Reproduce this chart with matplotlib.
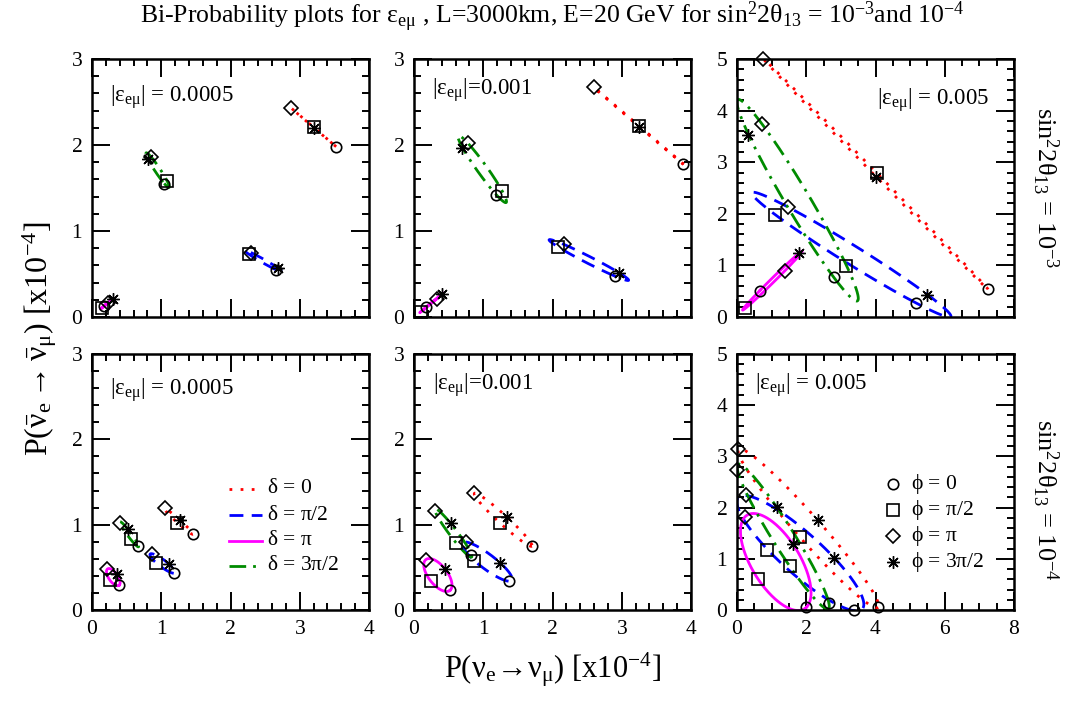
import numpy as np
import matplotlib
matplotlib.use('Agg')
import matplotlib.pyplot as plt
from matplotlib.ticker import MultipleLocator

plt.rcParams['font.family'] = ['Liberation Serif', 'DejaVu Serif']
plt.rcParams['mathtext.fontset'] = 'stix'
plt.rcParams['mathtext.default'] = 'regular'

# rows: delta = 0, pi/2, pi, 3pi/2
# columns: phi = 0, pi/2, pi, 3pi/2   (values in units of 1e-4)
p1_x = [[3.52, 3.20, 2.87, 3.21], [2.66, 2.26, 2.30, 2.68], [0.17, 0.14, 0.23, 0.30], [1.04, 1.09, 0.85, 0.81]]
p1_y = [[1.98, 2.21, 2.43, 2.20], [0.55, 0.73, 0.75, 0.57], [0.13, 0.10, 0.16, 0.21], [1.55, 1.58, 1.86, 1.84]]

p2_x = [[3.89, 3.25, 2.60, 3.25], [2.90, 2.08, 2.16, 2.96], [0.18, 0.10, 0.33, 0.41], [1.19, 1.27, 0.78, 0.70]]
p2_y = [[1.78, 2.22, 2.67, 2.21], [0.48, 0.81, 0.85, 0.51], [0.12, 0.06, 0.21, 0.27], [1.42, 1.47, 2.02, 1.97]]

p3_x = [[7.24, 4.03, 0.76, 4.02], [5.16, 1.10, 1.46, 5.50], [0.67, 0.23, 1.39, 1.80], [2.79, 3.16, 0.72, 0.33]]
p3_y = [[0.54, 2.80, 5.00, 2.72], [0.28, 1.98, 2.14, 0.43], [0.51, 0.17, 0.89, 1.25], [0.78, 0.99, 3.75, 3.53]]

p4_x = [[1.46, 1.23, 1.05, 1.27], [1.18, 0.93, 0.86, 1.11], [0.39, 0.26, 0.22, 0.36], [0.67, 0.56, 0.40, 0.52]]
p4_y = [[0.89, 1.02, 1.19, 1.05], [0.43, 0.55, 0.66, 0.54], [0.29, 0.35, 0.48, 0.42], [0.75, 0.83, 1.02, 0.95]]

p5_x = [[1.70, 1.24, 0.87, 1.34], [1.37, 0.86, 0.75, 1.24], [0.52, 0.24, 0.17, 0.45], [0.83, 0.61, 0.30, 0.53]]
p5_y = [[0.75, 1.02, 1.37, 1.09], [0.34, 0.58, 0.80, 0.55], [0.23, 0.34, 0.59, 0.48], [0.64, 0.79, 1.16, 1.02]]

p6_x = [[4.07, 1.81, 0.04, 2.33], [3.39, 0.88, 0.26, 2.79], [2.00, 0.62, 0.23, 1.63], [2.65, 1.52, 0.01, 1.15]]
p6_y = [[0.05, 1.43, 3.14, 1.76], [0.00, 1.17, 2.25, 1.02], [0.05, 0.60, 1.82, 1.28], [0.14, 0.86, 2.73, 2.01]]

delta_labels = [r'$\delta$ = 0', r'$\delta$ = $\pi$/2', r'$\delta$ = $\pi$', r'$\delta$ = 3$\pi$/2']
phi_labels = [r'$\phi$ = 0', r'$\phi$ = $\pi$/2', r'$\phi$ = $\pi$', r'$\phi$ = 3$\pi$/2']

line_colors = ['#ff0000', '#0000ff', '#ff00ff', '#008b00']
line_styles = [(0, (1, 3)), (0, (5, 3)), '-', (0, (6, 2.5, 1, 2.5))]
markers = ['o', 's', 'D', (8, 2, 0)]
marker_sizes = [7.5, 8, 7.5, 9]
marker_widths = [1.2, 1.2, 1.2, 1.0]


def bi_prob_curve(px, py):
    # closed bi-probability curve through the four phi points
    x = np.array(px)
    y = np.array(py)
    phi = np.linspace(0, 2 * np.pi, 400)
    cx, cy = x.mean(), y.mean()
    ux, uy = (x[0] - x[2]) / 2, (y[0] - y[2]) / 2
    vx, vy = (x[1] - x[3]) / 2, (y[1] - y[3]) / 2
    return (cx + ux * np.cos(phi) + vx * np.sin(phi),
            cy + uy * np.cos(phi) + vy * np.sin(phi))


def draw_panel(ax, px, py, xmax, ymax, xmajor, xminor, show_xlabels):
    for k in range(4):
        cxs, cys = bi_prob_curve(px[k], py[k])
        ax.plot(cxs, cys, color=line_colors[k], linestyle=line_styles[k], lw=2)
        for j in range(4):
            ax.plot(px[k][j], py[k][j], linestyle='none', marker=markers[j],
                    ms=marker_sizes[j], mfc='none', mec='black', mew=marker_widths[j],
                    clip_on=False, zorder=5)
    ax.set_xlim(0, xmax)
    ax.set_ylim(0, ymax)
    ax.xaxis.set_major_locator(MultipleLocator(xmajor))
    ax.xaxis.set_minor_locator(MultipleLocator(xminor))
    ax.yaxis.set_major_locator(MultipleLocator(1))
    ax.yaxis.set_minor_locator(MultipleLocator(0.2))
    ax.tick_params(which='both', direction='in', top=True, right=True, labelsize=15.5, width=1.4)
    ax.tick_params(which='major', length=13, pad=7)
    ax.tick_params(which='minor', length=5)
    if not show_xlabels:
        ax.tick_params(axis='x', labelbottom=False)
    for s in ax.spines.values():
        s.set_linewidth(1.8)


fig = plt.figure(figsize=(10.7, 7.02), dpi=100)
W, H = 1070, 702
lefts = [92, 414, 737]
width = 277
top_row = (317, 258)
bot_row = (610, 256)

axes = []
for (base, h) in [top_row, bot_row]:
    row = []
    for l in lefts:
        row.append(fig.add_axes([l / W, 1 - base / H, width / W, h / H]))
    axes.append(row)

draw_panel(axes[0][0], p1_x, p1_y, 4, 3, 1, 0.2, False)
draw_panel(axes[0][1], p2_x, p2_y, 4, 3, 1, 0.2, False)
draw_panel(axes[0][2], p3_x, p3_y, 8, 5, 2, 0.5, False)
draw_panel(axes[1][0], p4_x, p4_y, 4, 3, 1, 0.2, True)
draw_panel(axes[1][1], p5_x, p5_y, 4, 3, 1, 0.2, True)
draw_panel(axes[1][2], p6_x, p6_y, 8, 5, 2, 0.5, True)

eps_fs = 16.5
axes[0][0].text(0.065, 0.853, r'$|\varepsilon_{e\mu}|$ = 0.0005', transform=axes[0][0].transAxes, fontsize=eps_fs, va='center')
axes[0][1].text(0.065, 0.88, r'$|\varepsilon_{e\mu}|$=0.001', transform=axes[0][1].transAxes, fontsize=eps_fs, va='center')
axes[0][2].text(0.507, 0.84, r'$|\varepsilon_{e\mu}|$ = 0.005', transform=axes[0][2].transAxes, fontsize=eps_fs, va='center')
axes[1][0].text(0.065, 0.86, r'$|\varepsilon_{e\mu}|$ = 0.0005', transform=axes[1][0].transAxes, fontsize=eps_fs, va='center')
axes[1][1].text(0.069, 0.88, r'$|\varepsilon_{e\mu}|$=0.001', transform=axes[1][1].transAxes, fontsize=eps_fs, va='center')
axes[1][2].text(0.065, 0.88, r'$|\varepsilon_{e\mu}|$ = 0.005', transform=axes[1][2].transAxes, fontsize=eps_fs, va='center')

# delta legend (lines)
ax = axes[1][0]
leg_y = [0.473, 0.371, 0.270, 0.172]
for k in range(4):
    ax.plot([0.493, 0.612], [leg_y[k], leg_y[k]], transform=ax.transAxes,
            color=line_colors[k], linestyle=line_styles[k], lw=2)
    ax.text(0.633, leg_y[k], delta_labels[k], transform=ax.transAxes, fontsize=15.5, va='center')

# phi legend (markers)
ax = axes[1][2]
leg_y = [0.492, 0.390, 0.289, 0.1875]
for j in range(4):
    ax.plot([0.562], [leg_y[j]], transform=ax.transAxes, linestyle='none', marker=markers[j],
            ms=marker_sizes[j], mfc='none', mec='black', mew=marker_widths[j])
    ax.text(0.627, leg_y[j], phi_labels[j], transform=ax.transAxes, fontsize=15.5, va='center')

fig.text(552 / W, 1 - 17 / H,
         r'Bi-Probability plots for $\varepsilon_{e\mu}$ , L=3000km, E=20 GeV for sin$^2$2$\theta_{13}$ = 10$^{-3}$and 10$^{-4}$',
         ha='center', va='center', fontsize=18.5)
fig.text(552 / W, 1 - 670 / H, r'P($\nu_e\!\rightarrow\!\nu_\mu$) [x10$^{-4}$]',
         ha='center', va='center', fontsize=22)
fig.text(40 / W, 1 - 338 / H, r'P($\bar{\nu}_e \rightarrow \bar{\nu}_\mu$) [x10$^{-4}$]',
         ha='center', va='center', rotation=90, fontsize=23)
fig.text(1045 / W, 1 - 188 / H, r'sin$^2$2$\theta_{13}$ = 10$^{-3}$',
         ha='center', va='center', rotation=270, fontsize=19)
fig.text(1045 / W, 1 - 500 / H, r'sin$^2$2$\theta_{13}$ = 10$^{-4}$',
         ha='center', va='center', rotation=270, fontsize=19)

fig.savefig('out.png', dpi=100)
